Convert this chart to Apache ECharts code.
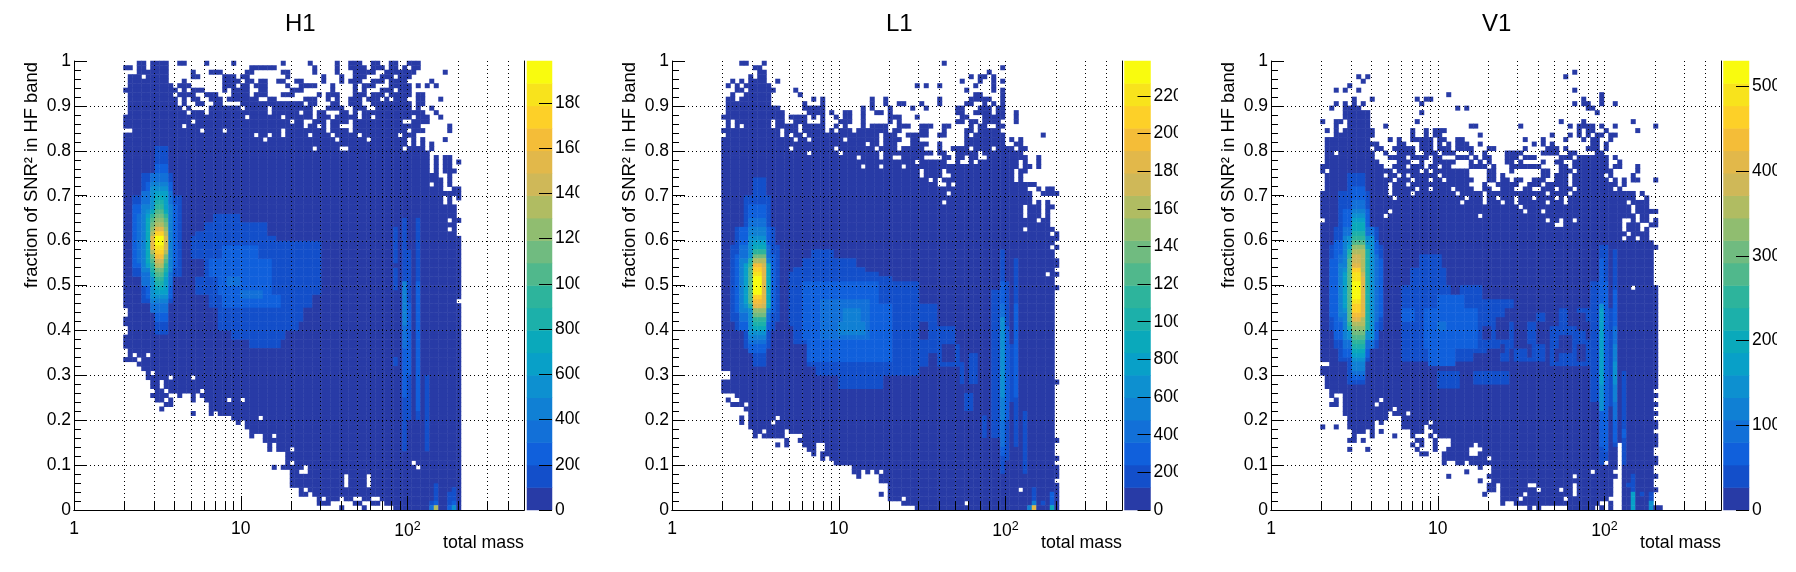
<!DOCTYPE html>
<html><head><meta charset="utf-8">
<script src="https://cdn.jsdelivr.net/npm/echarts@6/dist/echarts.min.js"></script>
<style>html,body{margin:0;background:#fff}#c{width:1796px;height:572px}</style></head>
<body><div id="c"></div>
<script>
// ---- data ----------------------------------------------------------------
const panelTitles = ['H1', 'L1', 'V1'];
const xTitle = 'total mass';
const yTitle = 'fraction of SNR² in HF band';
const zMax = [1985, 2385, 5300];
const h1ZTicks = [0,200,400,600,800,1000,1200,1400,1600,1800];
const l1ZTicks = [0,200,400,600,800,1000,1200,1400,1600,1800,2000,2200];
const v1ZTicks = [0,1000,2000,3000,4000,5000];
const xGridValues = [2,3,4,5,6,7,8,9,10,20,30,40,50,60,70,80,90,100,200,300,400];
const yGridValues = [0.1,0.2,0.3,0.4,0.5,0.6,0.7,0.8,0.9];
const colourLevels = ['#283ba6','#134fca','#1060dc','#1270d8','#1080d4','#0d90d0','#08a0c8','#0aa9bb','#1cb0aa','#2db49c','#50b88c','#70bb80','#90bd70','#b0bc62','#cfb858','#e2b84a','#f4bd38','#fdd028','#f8e31c','#f9fb0e'];

// occupied bins at the lowest level: [topRow, bottomRow, "bin ranges"]
const h1Occupied = [
[99,99,"14-15 17-20 23-24 29 35 46 52 58 61-63 66-67 70-71 74-76"],
[98,98,"11-12 14-15 17-20 39-44 53 58 61-64 66-68 70-71 73 75-76"],
[97,97,"14-20 26 30-32 38-39 46-47 53 58 62-66 69-73 74-75 82"],
[96,96,"12-14 16-20 26-27 33-35 37-38 47 55 59 62-64 68-70 72-74"],
[95,95,"12-20 24 33-36 38-39 41-42 45-46 49-50 55 59 61-63 66-68 70-73 79"],
[94,94,"12-21 23-25 33-35 37-38 40-42 47 50-53 57 62 64-66 70-74 76 78 80"],
[93,93,"11-22 24 26-28 33 35-38 41-42 48-50 57 62 64 68-70 72-74"],
[92,92,"12-21 23-26 29-31 35-38 40-42 46-48 54 56-58 62-64 66-68 70-74 76-77"],
[91,91,"12-22 24 26-27 30-32 34-40 43-44 51-53 56 58 61-63 65-67 69 71-73 76-77 81"],
[90,90,"12-22 24 27-28 31-32 37-50 52-53 57-58 61-63 66-74 76-77"],
[89,89,"12-23 25 30-36 38-42 44-52 56-59 62-64 67-74 76 79"],
[88,88,"12-24 26-28 30-42 44-49 51-52 54-55 59-60 62 64-77 80"],
[87,87,"11-37 39-45 47-52 54-56 58-62 64-65 67-74 76-78 81"],
[86,86,"11-25 27-47 49-50 53-55 57-60 62-72 75-78"],
[85,85,"11-23 25-47 48-50 52-53 55 57-58 62-76 83"],
[84,84,"13-27 29-32 34-45 47-55 57-60 62-73 75-77 83"],
[83,83,"11-39 41-42 44-45 47-51 53-56 58-62 64-71 73-75"],
[82,82,"11-41 43-57 59-64 66-73 75 77 82"],
[81,81,"11-73 75 77 79"],
[80,80,"11-52 54-58 61-72 74-77 79"],
[79,79,"11-78"],
[78,78,"11-78 80 82-83"],
[77,77,"11-78 80 82-83 85"],
[76,76,"11-78 80 82-83"],
[75,75,"11-78 80 82-84"],
[74,74,"11-80 83"],
[73,73,"11-81 83"],
[72,72,"11-78 80-81 83"],
[71,71,"11-81 84-85"],
[70,70,"11-82 83-85"],
[69,69,"11-81 83 85"],
[68,68,"11-81 83"],
[67,65,"11-84"],
[64,64,"11-82 84-85"],
[63,63,"11-84"],
[62,62,"11-82 84"],
[61,61,"11-84"],
[60,47,"11-85"],
[46,46,"11-84"],
[45,45,"11-85"],
[44,43,"12-85"],
[42,41,"11-85"],
[40,39,"12-85"],
[38,36,"11-85"],
[35,35,"12-85"],
[34,34,"12 14-15 17-85"],
[33,33,"11-13 15-85"],
[32,32,"14-85"],
[31,31,"15-85"],
[30,30,"16 18-85"],
[29,29,"16-20 22-25 27-85"],
[28,27,"17-18 20-85"],
[26,26,"18-19 21-27 29-85"],
[25,25,"17-20 23 26 28-85"],
[24,24,"18-19 21 26 29-33 35-36 38-85"],
[23,23,"20-21 30-85"],
[22,22,"19 30-85"],
[21,21,"26 30 32-85"],
[20,20,"35-40 42-85"],
[19,19,"36 38-85"],
[18,18,"38-85"],
[17,17,"39-85"],
[16,16,"39 42-43 45-85"],
[15,15,"42-85"],
[14,14,"43 45-85"],
[13,13,"43 45-47 49-85"],
[12,11,"47-85"],
[10,10,"47 49-74 76-85"],
[9,9,"44 46-50 52-75 77-85"],
[8,8,"48-49 52-85"],
[7,5,"48-59 61-64 66-85"],
[4,4,"50 52-85"],
[3,3,"50-51 53-85"],
[2,2,"54 56-58 60-61 64-65 68-85"],
[1,1,"54-56 62-63 66-67 69-85"],
[0,0,"59 64 71-85"]];

// regions above the lowest level: [binFrom, binTo, rowFrom, rowTo, level]
const h1Regions = [
[31,36,64,65,1],[29,42,62,63,1],[27,42,61,61,1],[26,44,60,60,1],[26,54,56,59,1],[29,54,52,55,1],[27,54,48,51,1],[30,52,45,47,1],[32,50,42,44,1],[32,49,40,41,1],[35,46,38,39,1],[39,45,36,37,1],
[33,40,56,58,2],[30,43,52,55,2],[32,43,48,51,2],[33,45,45,47,2],[34,36,50,51,3],[37,41,47,48,3],
[71,71,55,62,1],[71,71,49,53,1],[71,71,32,33,1],[73,73,13,64,1],[74,74,20,57,1],[76,76,20,64,1],[78,78,13,29,1],[73,73,25,50,2],[73,73,36,50,3],[73,73,41,50,4],[74,74,30,45,2],[76,76,22,50,2],
[18,20,39,80,1],[15,21,46,74,1],[13,23,52,69,1],
[18,20,42,76,2],[16,21,47,72,2],[13,22,54,67,2],
[17,20,44,74,3],[15,21,50,70,3],[14,21,55,65,3],
[17,20,46,72,4],[15,21,53,67,4],
[17,20,47,71,5],[16,20,54,66,5],
[18,20,48,70,6],[16,20,54,65,6],
[18,19,49,69,7],[17,20,52,66,7],[16,20,55,64,7],
[18,19,50,68,8],[17,20,53,65,8],
[18,19,51,67,9],[17,20,54,65,9],
[18,19,52,66,10],[17,20,55,64,10],
[18,19,53,65,11],[17,20,56,63,11],
[18,19,54,64,12],[17,20,57,62,12],
[18,19,54,63,13],[17,20,57,61,13],
[18,19,55,62,14],[17,20,58,60,14],
[18,19,56,62,15],[17,19,58,60,15],
[18,19,56,61,16],[18,19,57,61,17],[18,19,58,60,18],[18,19,59,60,19],
[79,79,1,1,1],[79,79,0,0,3],[80,80,2,5,1],[80,80,1,1,2],[80,80,0,0,13],[83,83,1,3,1],[83,83,0,0,2],[84,84,2,4,1],[84,84,1,1,2],[84,84,0,0,5]];

const l1Occupied = [
[99,99,"15-16 20 60"],
[98,98,"18-19 73"],
[97,97,"19-20 70"],
[96,96,"17 19-20 66 68-69 71"],
[95,95,"13 15 17-20 23 64 68 71 73"],
[94,94,"12 14 16-21 54 56 59 67 71"],
[93,93,"14-15 17-22 27 65 71 73"],
[92,92,"13 16-21 28 67-68 73"],
[91,91,"12-13 15-21 31 33 44 47 59 66-70 73"],
[90,90,"12-21 29 33 44 47 50-51 55 59 65-66 69 71 73"],
[89,89,"12-23 29-33 42 44 48 53 56 63-64 68-70 72-73"],
[88,88,"12-24 30-33 35 38-39 42 45-46 48 63-64 67-70 72-73 76"],
[87,87,"11-24 26-29 31 33 36 38-39 42 48-50 54 64-65 69-73 76"],
[86,86,"12 14-21 23-24 27-29 33 37-39 42 48 50 63-64 66-67 69-72 76"],
[85,85,"12 14 16-21 23-27 29-33 36 38 42 44-47 50-52 55-57 60-61 66 68-69 72-73"],
[84,84,"11-23 25-27 29-33 35 37-39 41-47 49-50 55-56 60 65-66 68-72"],
[83,83,"12-23 25 27-28 30-45 47-49 52-56 59-60 65 67-73 82"],
[82,82,"11-26 28-29 31-37 39-45 47-50 53-54 65-73 75 77"],
[81,81,"11-42 44-45 47-49 53-56 59 65-73 76-77"],
[80,80,"11-25 27-35 37-44 46-49 51-55 59 62-65 67-70 72-75 77-78"],
[79,79,"11-29 31-36 38-45 47-57 59-60 63-67 69-77"],
[78,78,"11-40 42-45 47-48 51-55 60-61 63-64 66-67 70-78 81"],
[77,77,"11-53 55-60 63 66 68-76 78 81"],
[76,76,"11-41 43-45 47-50 52-76 78-79 81"],
[75,75,"11-54 56-59 61-75 77-78"],
[74,74,"11-54 56-59 62-75 77"],
[73,73,"11-56 58 60-75 77"],
[72,72,"11-58 61 63-80"],
[71,71,"11-78 81 83-84"],
[70,70,"11-60 62-79 82-85"],
[69,69,"11-79"],
[68,68,"11-59 61-79 81 83"],
[67,67,"11-77 79-81 83-84"],
[66,65,"11-77 79-81 83"],
[64,64,"11-80 82-83"],
[63,63,"11-83"],
[62,62,"11-77 79-84"],
[61,61,"11-83 85"],
[60,60,"11-85"],
[59,59,"11-84"],
[58,58,"11-83 85"],
[57,56,"11-84"],
[55,54,"11-85"],
[53,53,"11-84"],
[52,52,"11-82 84-85"],
[51,50,"11-84"],
[49,49,"11-85"],
[48,31,"11-84"],
[30,29,"13-84"],
[28,28,"11-85"],
[27,26,"11-84"],
[25,25,"14-84"],
[24,24,"12 15-84"],
[23,23,"13-15 17-84"],
[22,22,"16-84"],
[21,21,"17-84"],
[20,20,"15 17-22 24-84"],
[19,19,"15 17-21 23-84"],
[18,18,"17-84"],
[17,17,"18-19 21-24 26-84"],
[16,16,"18 20-24 29-84"],
[15,15,"25 28-85"],
[14,14,"23 25 29-31 34-84"],
[13,13,"30-31 34-84"],
[12,12,"31 33-84"],
[11,11,"33 35-85"],
[10,10,"36-84"],
[9,9,"40-85"],
[8,8,"40-41 43 45 47-85"],
[7,7,"41 46-85"],
[6,6,"46-84"],
[5,5,"48-85"],
[4,4,"48-76 78-85"],
[3,3,"46 48-85"],
[2,2,"48-50 52-85"],
[1,1,"51-64 66-85"],
[0,0,"54-85"]];

const l1Regions = [
[31,35,56,57,1],[29,40,54,55,1],[27,42,53,53,1],[26,45,52,52,1],[26,48,51,51,1],[26,54,46,50,1],[26,58,41,45,1],[27,62,37,40,1],[30,63,32,36,1],[32,54,30,31,1],[37,46,27,29,1],
[55,56,38,41,0],[60,62,33,36,0],[57,58,30,34,0],
[29,45,38,50,2],[30,48,33,45,2],[33,43,38,46,3],[33,36,44,46,3],[38,41,40,44,4],[37,42,39,41,4],
[71,72,16,48,1],[64,64,28,32,1],[66,67,28,34,1],[65,66,22,25,1],[69,69,16,20,1],[75,75,24,36,1],
[73,73,8,57,1],[73,73,12,50,2],[73,73,14,45,3],[73,73,20,35,4],[73,73,25,42,5],[74,74,11,50,1],[74,74,20,40,2],[76,76,14,55,1],[76,76,25,45,2],[78,78,8,21,1],
[18,20,32,73,1],[16,21,36,69,1],[14,22,40,62,1],[13,23,42,58,1],
[17,20,35,67,2],[15,21,40,62,2],[14,22,44,56,2],
[17,20,37,64,3],[15,21,42,58,3],
[17,20,38,62,4],[15,21,44,55,4],
[17,20,39,60,5],[16,21,45,54,5],
[18,20,40,59,6],[16,21,46,54,6],
[18,20,40,58,7],[17,21,45,54,7],
[18,20,41,57,8],[17,20,45,55,8],
[18,20,42,57,9],[17,20,46,54,9],
[18,20,43,56,10],[17,20,46,53,10],
[18,20,43,56,11],[18,20,44,55,12],[18,20,45,55,13],[18,20,45,54,14],
[18,19,45,54,15],[20,20,46,53,15],
[18,19,46,54,16],[18,19,47,53,17],[18,19,48,52,18],[18,19,48,51,19],
[82,82,1,1,1],[79,79,0,0,4],[80,80,2,4,1],[80,80,1,1,4],[80,80,0,0,15],[84,84,1,3,2],[84,84,0,0,7]];

const v1Occupied = [
[97,97,"67"],
[96,96,"19 21 65"],
[95,95,"20"],
[94,94,"17"],
[93,93,"14 16 19 67"],
[92,92,"39 73"],
[91,91,"18 22 32 34-35 69 73"],
[90,90,"14 16 18 20 33 67 69-70 73 76"],
[89,89,"13 16-19 41 43 70-71"],
[88,88,"16-21 33 72"],
[87,87,"16-21"],
[86,86,"11 14-15 17-21 32 64 69 80"],
[85,85,"14 17-21 25 44-45 55 66 68-71 73 76 85"],
[84,84,"12 14 16-22 31 34 36-38 68 70-71 74 81"],
[83,83,"14-22 31 34 36-37 46 62 66 68 70 72-73 75-76"],
[82,82,"12-21 26 28 31-35 37-38 41-42 56 60 65 69 71-72 75"],
[81,81,"12-23 28-29 33-35 37 39 41-43 46 58 60 62 71-72 74"],
[80,80,"12-21 23-24 27-31 33-35 37-39 41-44 48-49 56 61-63 65 70-72 74"],
[79,79,"12-13 15-22 25 28-31 34-36 38-40 44 47 52-55 60-63 66-67 72-73"],
[78,78,"12-22 26-29 31-34 36-37 41-43 45 47-48 52-54 56-58 64-66 68-74 76"],
[77,77,"12-23 28-30 33 36-40 44 46 48 52-53 55 60 63-64 67-74 77"],
[76,76,"11-24 27-29 31-33 35-36 38-39 44-47 49 53-59 64-65 67-74 76-77 81"],
[75,75,"11 13-26 28-32 34 36-43 48-49 53 60-61 64-66 68-75 81"],
[74,74,"12-24 26-27 29 31-36 38-43 48-49 51 60-61 63-65 67-73 75 80"],
[73,73,"12-26 28-30 32-34 36-37 39-44 48-49 51-52 54-55 58-60 63-65 67-74 76 78 80-81 85"],
[72,72,"12-25 27-29 31-43 47 50-54 57-59 61-65 67-76 78"],
[71,71,"12-25 27-31 33-34 36-39 41-44 47-48 51-53 56-57 60-62 64-66 68-75 77"],
[70,70,"11-25 27-30 32-40 42-46 48-60 62-65 67-80 82"],
[69,69,"11-26 28-42 44-46 48-49 51-53 55-57 59-62 64 66-80 83"],
[68,68,"11-41 43-46 48-50 52-53 55-60 62-64 66-78 80-83"],
[67,67,"11-54 56-79 81-83"],
[66,66,"11-25 27-55 57-59 61-79 81-85"],
[65,65,"11-24 26-45 47-80 82-83"],
[64,64,"12-60 62-63 65-66 68-77 80 82-83 85"],
[63,63,"11-62 65-77 79-81 84-85"],
[62,62,"11-77 79-81 83"],
[61,61,"11-78 80-83"],
[60,60,"11-77 79-80 82-83"],
[59,59,"11-84"],
[58,58,"11-85"],
[57,50,"11-84"],
[49,49,"11-79 81-85"],
[48,33,"11-85"],
[32,32,"13-85"],
[31,30,"11-85"],
[29,27,"12-85"],
[26,26,"13-84"],
[25,25,"13 16-85"],
[24,24,"14 16-23 25-84"],
[23,23,"13-14 16-22 24-85"],
[22,22,"16-26 28-84"],
[21,21,"16-25 27-29 31-85"],
[20,20,"17-25 29-84"],
[19,19,"17-22 24 29-34 36-85"],
[18,18,"11 14 17-22 29-33 35-85"],
[17,17,"18-20 22 24 31-33 36-84"],
[16,16,"18 22 27 31 35 37-85"],
[15,15,"17-18 20 32-33 36 40-85"],
[14,14,"31 33 36 40-44 46-76 78-85"],
[13,13,"17 21 32 36 39-43 47-76 78-84"],
[12,12,"33-34 38-43 46-76 78-84"],
[11,11,"38-47 49-76 78-85"],
[10,10,"38 41-42 44-73 75-76 78-85"],
[9,9,"46 49-76 78-84"],
[8,8,"43 49-70 72-75 78-84"],
[7,7,"39 48-66 68-76 78-85"],
[6,6,"46 49-75 78-84"],
[5,5,"48-49 51-56 59-66 68-75 78-84"],
[4,4,"48-49 51-58 60-63 65-66 68-75 78-85"],
[3,3,"47 51-55 57-66 68-75 78-84"],
[2,2,"51-54 56-64 66-74 78-84"],
[1,1,"51 54-72 75 78-84"],
[0,0,"57 59 66-71 73 75 78-86"]];

const v1Regions = [
[31,38,50,53,1],[33,37,54,56,1],[29,46,44,49,1],[29,53,44,46,1],[29,60,33,43,1],[37,41,27,30,1],[45,52,28,30,1],[62,72,32,44,1],[71,72,24,50,1],
[50,52,38,42,0],[54,56,36,43,0],[59,60,37,41,0],[48,50,33,35,0],[45,47,31,34,0],[64,66,35,38,0],[68,69,40,43,0],[40,41,48,49,0],[52,53,42,44,0],
[47,48,38,40,0],[51,51,35,36,0],[53,53,33,35,0],[57,58,42,43,0],[57,57,34,36,0],[62,63,41,44,0],[66,67,41,44,0],[70,70,38,41,0],[63,63,33,35,0],[68,69,33,36,0],
[34,45,36,44,2],[35,40,32,40,2],[37,42,44,47,2],[29,31,42,44,2],[37,38,40,41,3],
[73,74,10,58,1],[73,73,14,55,2],[73,73,22,45,5],[73,73,28,44,6],[74,74,13,50,2],[75,75,23,44,1],[76,76,14,57,1],[76,76,15,48,2],[76,76,20,40,3],[76,76,24,36,4],[76,76,28,32,5],[78,78,10,30,1],[78,78,16,17,2],
[17,20,28,74,1],[15,21,33,70,1],[14,23,36,62,1],[13,24,40,58,1],
[18,20,29,71,2],[16,21,34,66,2],[14,23,38,59,2],[13,24,43,55,2],
[18,20,30,68,3],[16,22,36,62,3],[15,23,42,56,3],
[18,20,31,66,4],[16,22,38,60,4],[15,22,43,54,4],
[18,20,33,65,5],[17,22,38,60,5],[16,22,44,53,5],
[18,20,34,64,6],[17,21,40,58,6],[16,21,45,52,6],
[18,20,35,63,7],[17,21,40,57,7],
[18,20,36,61,8],[17,21,40,57,8],
[18,20,37,60,9],[17,20,41,56,9],
[18,20,38,59,10],[17,20,42,55,10],
[18,20,39,58,11],[18,20,40,58,12],[18,20,41,57,13],
[18,19,42,56,14],[20,20,43,52,14],
[18,19,42,54,15],[20,20,43,51,15],[18,19,43,53,16],[18,19,44,53,17],[18,19,46,52,18],[18,19,47,50,19],
[79,79,5,5,1],[80,80,4,7,1],[80,80,0,3,6],[82,82,3,3,1],[84,84,2,3,1],[84,84,0,1,5]];

// ---- layout ----------------------------------------------------------------
const FONT = '"Liberation Sans", Arial, sans-serif';
const frames = [
  {left:74,  right:524,  barL:527,  barR:552,  clip:579.4, titleLeft:285},
  {left:672, right:1122, barL:1124.5, barR:1150.5, clip:1178, titleLeft:886},
  {left:1271,right:1721, barL:1723.5, barR:1749, clip:1777, titleLeft:1482}];
const TOP = 61, BOTTOM = 510, NBINS = 100, NLEVELS = 20;
const occupied = [h1Occupied, l1Occupied, v1Occupied];
const regions = [h1Regions, l1Regions, v1Regions];
const zTicks = [h1ZTicks, l1ZTicks, v1ZTicks];
const binNames = Array.from({length:NBINS}, (_, i) => String(i));
const levelNames = colourLevels.map((_, i) => String(i));

function cells(occ, reg, zmax) {
  const grid = new Map();
  occ.forEach(([top, bottom, spec]) => {
    for (let r = bottom; r <= top; r++) spec.split(' ').forEach(part => {
      const [a, b] = part.split('-').map(Number);
      for (let x = a; x <= (b === undefined ? a : b); x++) grid.set(x + ':' + r, 0);
    });
  });
  reg.forEach(([x0, x1, r0, r1, lev]) => {
    for (let r = r0; r <= r1; r++) for (let x = x0; x <= x1; x++)
      if (grid.has(x + ':' + r)) grid.set(x + ':' + r, lev);
  });
  return [...grid].map(([k, lev]) => {
    const [x, r] = k.split(':').map(Number);
    return [x, r, (lev + 0.5) * zmax / NLEVELS];
  });
}

const grids = [], xAxes = [], yAxes = [], series = [], visualMaps = [], titles = [], cover = [];
const axisText = {color:'#000', fontFamily:FONT, fontSize:17.5};
const blackLine = {show:true, lineStyle:{color:'#000', width:1}};
const xLabels = {1:'1', 10:'10', 100:'10{sup|2}'};
const snap = v => Math.round(v) + 0.5;
const dotStyle = {stroke:'#000', lineWidth:1, lineDash:[1,3]};

frames.forEach((f, i) => {
  const zmax = zMax[i];
  titles.push({text:panelTitles[i], left:f.titleLeft, top:12, padding:0,
    textStyle:{fontFamily:FONT, fontWeight:'normal', fontSize:24, color:'#000'}});
  // main frame
  const g = grids.length;
  grids.push({left:f.left, top:TOP, width:f.right-f.left, height:BOTTOM-TOP});
  const xCat = xAxes.length;
  xAxes.push({type:'category', gridIndex:g, data:binNames, position:'top', z:10, axisLine:blackLine, axisTick:{show:false}, axisLabel:{show:false}, splitLine:{show:false}});
  const xLog = xAxes.length;
  xAxes.push({type:'log', gridIndex:g, min:1, max:500, logBase:10, position:'bottom', z:10, axisLine:blackLine, axisTick:{show:false},
    axisLabel:Object.assign({}, axisText, {margin:10, showMinLabel:true, hideOverlap:false, formatter:v => xLabels[Math.round(v)] || '', rich:{sup:{fontSize:12.5, fontFamily:FONT, color:'#000', padding:[0,0,9,0]}}}),
    splitLine:{show:false}, minorTick:{show:false}, name:xTitle, nameLocation:'end', nameGap:0, nameMoveOverlap:false,
    nameTextStyle:Object.assign({}, axisText, {fontSize:17.8, align:'right', verticalAlign:'top', padding:[24,0,0,0]})});
  const yCat = yAxes.length;
  yAxes.push({type:'category', gridIndex:g, data:binNames, position:'right', z:10, axisLine:blackLine, axisTick:{show:false}, axisLabel:{show:false}, splitLine:{show:false}});
  const yVal = yAxes.length;
  yAxes.push({type:'value', gridIndex:g, min:0, max:1, interval:0.1, position:'left', z:10, axisLine:blackLine,
    axisTick:{show:true, inside:true, length:13, lineStyle:{color:'#000', width:1}},
    minorTick:{show:true, splitNumber:5, length:7, lineStyle:{color:'#000', width:1}},
    axisLabel:Object.assign({}, axisText, {margin:3, showMinLabel:true, showMaxLabel:true}), splitLine:{show:false},
    name:yTitle, nameLocation:'end', nameRotate:90, nameGap:-1, nameMoveOverlap:false,
    nameTextStyle:Object.assign({}, axisText, {fontSize:18.4, align:'right', verticalAlign:'bottom', padding:[0,0,33,0]})});
  const hSeries = series.length;
  series.push({type:'heatmap', xAxisIndex:xCat, yAxisIndex:yCat, data:cells(occupied[i], regions[i], zmax), z:2, progressive:0, emphasis:{disabled:true}});
  // dotted grid over the map, and the short minor ticks on the mass axis
  series.push({type:'custom', xAxisIndex:xLog, yAxisIndex:yVal, z:5, silent:true, clip:false,
    data:xGridValues.map(v => [v, 0]),
    renderItem:(p, api) => {
      const v = api.value(0), a = api.coord([v, 0]), b = api.coord([v, 1]);
      const len = (v === 10 || v === 100) ? 14 : 8, x = snap(a[0]);
      return {type:'group', children:[
        {type:'line', shape:{x1:x, y1:a[1], x2:x, y2:b[1]}, style:dotStyle},
        {type:'line', shape:{x1:x, y1:a[1], x2:x, y2:a[1]-len}, style:{stroke:'#000', lineWidth:1}}]};
    }});
  series.push({type:'custom', xAxisIndex:xLog, yAxisIndex:yVal, z:5, silent:true, clip:false,
    data:yGridValues.map(v => [1, v]),
    renderItem:(p, api) => {
      const v = api.value(1), a = api.coord([1, v]), b = api.coord([500, v]), y = snap(a[1]);
      return {type:'line', shape:{x1:a[0], y1:y, x2:b[0], y2:y}, style:dotStyle};
    }});
  // colour bar
  const gb = grids.length;
  grids.push({left:f.barL, top:TOP, width:f.barR-f.barL, height:BOTTOM-TOP});
  const xb = xAxes.length;
  xAxes.push({type:'category', gridIndex:gb, data:['z'], show:false});
  const yb = yAxes.length;
  yAxes.push({type:'category', gridIndex:gb, data:levelNames, show:false});
  yAxes.push({type:'value', gridIndex:gb, min:0, max:zmax, position:'right', z:10, axisLine:{show:false},
    axisTick:{show:true, inside:true, length:13, customValues:zTicks[i], lineStyle:{color:'#000', width:1}},
    axisLabel:Object.assign({}, axisText, {margin:3, customValues:zTicks[i], hideOverlap:false, formatter:v => String(v)}), splitLine:{show:false}, minorTick:{show:false}});
  const bSeries = series.length;
  series.push({type:'heatmap', xAxisIndex:xb, yAxisIndex:yb, z:2, progressive:0, emphasis:{disabled:true},
    data:colourLevels.map((_, l) => [0, l, (l + 0.5) * zmax / NLEVELS])});
  visualMaps.push({type:'piecewise', show:false, dimension:2, seriesIndex:[hSeries, bSeries],
    pieces:colourLevels.map((c, l) => ({gte:l * zmax / NLEVELS, lt:(l + 1) * zmax / NLEVELS, color:c}))});
  // the page pad cuts the colour-bar labels off at its edge
  cover.push({type:'rect', z:100, silent:true, shape:{x:f.clip, y:40, width:19, height:490}, style:{fill:'#fff'}});
});

const chart = echarts.init(document.getElementById('c'), null, {renderer:'canvas'});
chart.setOption({animation:false, backgroundColor:'#fff', title:titles, grid:grids, xAxis:xAxes, yAxis:yAxes, series, visualMap:visualMaps, graphic:{elements:cover}});
</script></body></html>
